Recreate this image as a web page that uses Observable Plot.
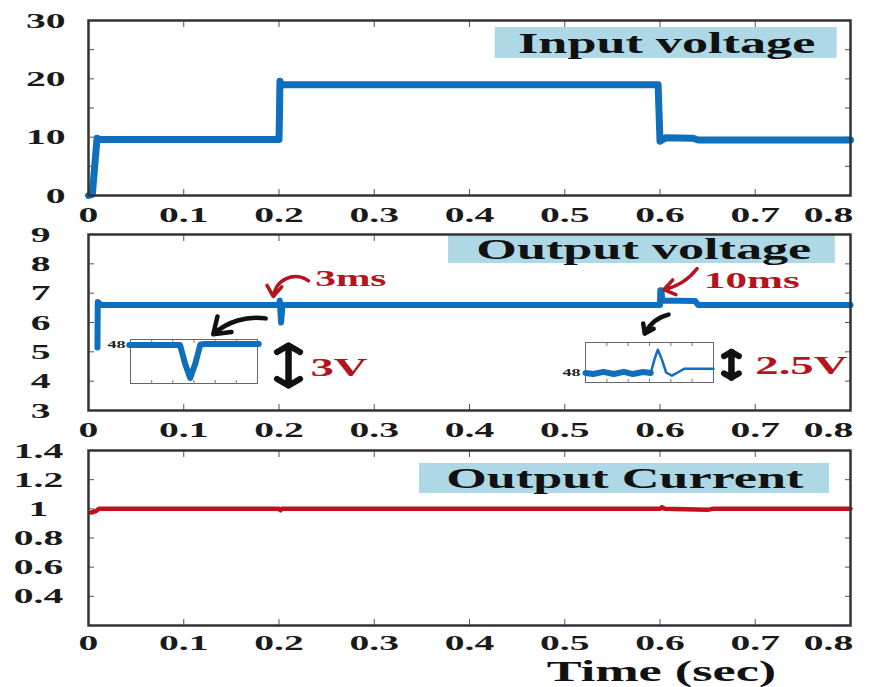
<!DOCTYPE html>
<html>
<head>
<meta charset="utf-8">
<script src="https://cdn.jsdelivr.net/npm/d3@7"></script>
<script src="https://cdn.jsdelivr.net/npm/@observablehq/plot@0.6"></script>
<style>
  body { margin: 0; background: #fff; }
  #chart { position: relative; width: 870px; height: 687px; overflow: hidden; }
  #chart svg { display: block; }
  .inset { position: absolute; }
</style>
</head>
<body>
<div id="chart"></div>
<script>
// ---------- data ----------
const timeTicks = [0, 0.1, 0.2, 0.3, 0.4, 0.5, 0.6, 0.7, 0.8];
const timeTickLabels = ["0", "0.1", "0.2", "0.3", "0.4", "0.5", "0.6", "0.7", "0.8"];

// Input voltage (V)
const inTime = [0, 0.004, 0.009, 0.012, 0.2, 0.2005, 0.201, 0.2018, 0.205, 0.598, 0.6, 0.603, 0.606, 0.635, 0.64, 0.8];
const inVolt = [0, 0.2, 9.8, 9.6, 9.6, 14, 19.6, 18.8, 19, 19, 9.3, 9.6, 9.9, 9.8, 9.5, 9.5];
const inLabelTicks = [0, 10, 20, 30];
const inLabels = ["0", "10", "20", "30"];
const inTicks = [0, 5, 10, 15, 20, 25, 30];

// Output voltage (V)
const outTime = [0.0094, 0.0097, 0.013, 0.2, 0.2008, 0.2022, 0.2037, 0.6, 0.6003, 0.6015, 0.6025, 0.637, 0.64, 0.8];
const outVolt = [5.15, 6.7, 6.6, 6.6, 6.75, 6.0, 6.6, 6.6, 7.1, 7.1, 6.75, 6.73, 6.6, 6.6];
const outLabelTicks = [3, 4, 5, 6, 7, 8, 9];
const outLabels = ["3", "4", "5", "6", "7", "8", "9"];
const outTicks = [3, 4, 5, 6, 7, 8, 9];

// Output current (A)
const curTime = [0.003, 0.008, 0.011, 0.2, 0.2015, 0.203, 0.6, 0.602, 0.605, 0.65, 0.655, 0.8];
const curAmp  = [0.975, 0.985, 1.0, 1.0, 0.99, 1.0, 1.0, 1.012, 1.0, 0.993, 1.0, 1.0];
const curLabelTicks = [0.4, 0.6, 0.8, 1, 1.2, 1.4];
const curLabels = ["0.4", "0.6", "0.8", "1", "1.2", "1.4"];
const curTicks = [0.2, 0.4, 0.6, 0.8, 1, 1.2, 1.4];

// Inset 1 (dip at 0.2 s)
const inset1Time = [-0.1, 3.9, 4.3, 4.7, 5.1, 5.5, 5.9, 10.1];
const inset1Volt = [48, 48, 46.3, 45.0, 46.3, 48.05, 48.1, 48.1];
// Inset 2 (overshoot at 0.6 s)
const inset2WaveTime = [0, 0.6, 1.4, 2.2, 3.0, 3.7, 4.5, 5.1];
const inset2WaveVolt = [47.95, 47.83, 48.07, 47.83, 48.07, 47.83, 48.05, 47.95];
const inset2PeakTime = [5.1, 5.4, 5.65, 5.95, 6.3, 6.75, 7.2, 7.7, 10];
const inset2PeakVolt = [47.95, 49.5, 50.5, 49.5, 48.0, 47.65, 48.0, 48.4, 48.4];
const insetTicks = [0, 1.67, 3.33, 5, 6.67, 8.33, 10];

// Panel titles (boxes in data units)
const titleLabels = ["Input voltage", "Output voltage", "Output Current"];
const titleX1 = [0.427, 0.378, 0.3475];
const titleX2 = [0.786, 0.784, 0.778];
const titleYTop = [28.8, 8.97, 1.311];
const titleYBot = [23.5, 8.01, 1.105];
const titleXc = [0.607, 0.583, 0.563];
const titleYc = [26.1, 8.47, 1.205];

// Annotations in the output-voltage panel
const noteText = ["3ms", "10ms", "3V", "2.5V"];
const noteTime = [0.238, 0.646, 0.233, 0.700];
const noteVolt = [7.5, 7.43, 4.47, 4.52];
// double-headed magnitude arrows: time, top, bottom (V)
const spanTime = [0.21, 0.675];
const spanTop = [5.22, 5.0];
const spanBot = [3.85, 4.12];

// ---------- style ----------
const W = 870, ML = 88, MR = 20;
const FONT = "'Liberation Serif', 'Times New Roman', serif";
const BLUE = "#0f6fbd", RED = "#c3101c", NOTE_RED = "#b3141e", BOX = "#aed8e6";
const STRETCH = 1.8;

const baseStyle = {fontFamily: FONT, fontSize: "22px", fontWeight: "bold", color: "#1a1a1a", background: "transparent", overflow: "visible"};

function fmt(ticks, labels) { return d => labels[ticks.indexOf(d)]; }

function panel({height, marginTop, marginBottom, yDomain, yTicks, yLabelTicks, yLabels, yPadding, yTextAnchor, xPadding = 11, marks}) {
  const lastTick = timeTicks[timeTicks.length - 1];
  const innerTicks = timeTicks.slice(0, -1);
  return Plot.plot({
    width: W, height, marginLeft: ML, marginRight: MR, marginTop, marginBottom,
    style: baseStyle,
    x: {domain: [0, 0.8]},
    y: {domain: yDomain},
    marks: [
      Plot.axisX({anchor: "bottom", ticks: timeTicks, tickSize: -6, fill: "none", stroke: "#555", label: null}),
      Plot.axisX({anchor: "top", ticks: timeTicks, tickSize: -6, fill: "none", stroke: "#555", label: null}),
      Plot.axisY({anchor: "left", ticks: yTicks, tickSize: -6, fill: "none", stroke: "#555", label: null}),
      Plot.axisY({anchor: "right", ticks: yTicks, tickSize: -6, fill: "none", stroke: "#555", label: null}),
      Plot.axisX({anchor: "bottom", ticks: innerTicks, tickSize: 0, tickPadding: xPadding, tickFormat: fmt(timeTicks, timeTickLabels), label: null, fill: "#1a1a1a"}),
      Plot.axisX({anchor: "bottom", ticks: [lastTick], tickSize: 0, tickPadding: xPadding, dx: -22, tickFormat: fmt(timeTicks, timeTickLabels), label: null, fill: "#1a1a1a"}),
      Plot.axisY({anchor: "left", ticks: yLabelTicks, tickSize: 0, tickPadding: yPadding, textAnchor: yTextAnchor, tickFormat: fmt(yLabelTicks, yLabels), label: null, fill: "#1a1a1a"}),
      ...marks,
      Plot.frame({stroke: "#333", strokeWidth: 2.5})
    ]
  });
}

function titleMarks(i) {
  const t = [{x1: titleX1[i], x2: titleX2[i], y1: titleYTop[i], y2: titleYBot[i], xc: titleXc[i], yc: titleYc[i], label: titleLabels[i]}];
  return [
    Plot.rect(t, {x1: "x1", x2: "x2", y1: "y1", y2: "y2", fill: BOX}),
    Plot.text(t, {x: "xc", y: "yc", text: "label", fontSize: 29, fontWeight: "bold", fill: "#111"})
  ];
}

const chart = document.getElementById("chart");

// Panel 1: input voltage
chart.append(panel({
  height: 225, marginTop: 20, marginBottom: 30,
  yDomain: [0, 30], yTicks: inTicks, yLabelTicks: inLabelTicks, yLabels: inLabels,
  yPadding: 23, yTextAnchor: "end",
  marks: [
    ...titleMarks(0),
    Plot.line(inTime, {x: inTime, y: inVolt, stroke: BLUE, strokeWidth: 7})
  ]
}));

// Panel 2: output voltage
const nt = i => [{x: noteTime[i], y: noteVolt[i], text: noteText[i]}];
const spans = spanTime.map((t, i) => ({t, top: spanTop[i], bot: spanBot[i]}));
chart.append(panel({
  height: 215, marginTop: 9, marginBottom: 30,
  yDomain: [3, 9], yTicks: outTicks, yLabelTicks: outLabelTicks, yLabels: outLabels,
  yPadding: 38, yTextAnchor: "end",
  marks: [
    ...titleMarks(1),
    Plot.line(outTime, {x: outTime, y: outVolt, stroke: BLUE, strokeWidth: 6}),
    // red arrows (recovery times)
    Plot.arrow([{x1: 0.231, y1: 7.42, x2: 0.194, y2: 6.88}], {x1: "x1", y1: "y1", x2: "x2", y2: "y2", bend: -60, stroke: NOTE_RED, strokeWidth: 3.5, headLength: 12, headAngle: 70}),
    Plot.arrow([{x1: 0.639, y1: 7.84, x2: 0.604, y2: 7.12}], {x1: "x1", y1: "y1", x2: "x2", y2: "y2", bend: 20, stroke: NOTE_RED, strokeWidth: 3.5, headLength: 12, headAngle: 70}),
    // black arrows to insets
    Plot.arrow([{x1: 0.186, y1: 6.14, x2: 0.131, y2: 5.6}], {x1: "x1", y1: "y1", x2: "x2", y2: "y2", bend: -25, stroke: "#111", strokeWidth: 4.5, headLength: 13, headAngle: 70}),
    Plot.arrow([{x1: 0.609, y1: 6.27, x2: 0.584, y2: 5.62}], {x1: "x1", y1: "y1", x2: "x2", y2: "y2", bend: -25, stroke: "#111", strokeWidth: 4.5, headLength: 13, headAngle: 70}),
    // double arrows (magnitudes): one arrow each way over the full span
    Plot.arrow(spans, {x1: "t", x2: "t", y1: "bot", y2: "top", stroke: "#111", strokeWidth: 6, headLength: 30, headAngle: 120}),
    Plot.arrow(spans, {x1: "t", x2: "t", y1: "top", y2: "bot", stroke: "#111", strokeWidth: 6, headLength: 30, headAngle: 120}),
    Plot.text(nt(0), {x: "x", y: "y", text: "text", fill: NOTE_RED, fontSize: 23, textAnchor: "start"}),
    Plot.text(nt(1), {x: "x", y: "y", text: "text", fill: NOTE_RED, fontSize: 24, textAnchor: "start"}),
    Plot.text(nt(2), {x: "x", y: "y", text: "text", fill: NOTE_RED, fontSize: 26, textAnchor: "start"}),
    Plot.text(nt(3), {x: "x", y: "y", text: "text", fill: NOTE_RED, fontSize: 26, textAnchor: "start"})
  ]
}));

// Panel 3: output current
chart.append(panel({
  height: 247, marginTop: 10, marginBottom: 62,
  yDomain: [0.2, 1.4], yTicks: curTicks, yLabelTicks: curLabelTicks, yLabels: curLabels,
  yPadding: 50, yTextAnchor: "middle", xPadding: 9,
  marks: [
    ...titleMarks(2),
    Plot.line(curTime, {x: curTime, y: curAmp, stroke: RED, strokeWidth: 4.5}),
    Plot.text(["Time (sec)"], {frameAnchor: "bottom", lineAnchor: "middle", text: d => d, dx: 192, dy: 46, fontSize: 29, fontWeight: "bold", fill: "#111"})
  ]
}));

// Insets
function inset({left, top, frameW, frameH, mt, mb, yDomain, marks}) {
  const ml = 30, mr = 6;
  const svg = Plot.plot({
    width: ml + frameW + mr, height: mt + frameH + mb,
    marginLeft: ml, marginRight: mr, marginTop: mt, marginBottom: mb,
    style: {...baseStyle, fontSize: "10px"},
    x: {domain: [0, 10]}, y: {domain: yDomain},
    marks: [
      Plot.axisX({anchor: "bottom", ticks: insetTicks, tickSize: -3, fill: "none", stroke: "#777", label: null}),
      Plot.axisX({anchor: "top", ticks: insetTicks, tickSize: -3, fill: "none", stroke: "#777", label: null}),
      Plot.axisY({anchor: "left", ticks: [48], tickSize: 0, tickPadding: 5, tickFormat: d => String(d), label: null, fill: "#222"}),
      Plot.frame({stroke: "#666", strokeWidth: 1}),
      ...marks
    ]
  });
  svg.classList.add("inset");
  svg.style.left = (left - ml) + "px";
  svg.style.top = (top - mt) + "px";
  chart.append(svg);
}

inset({left: 130, top: 339, frameW: 127, frameH: 44, mt: 5, mb: 5, yDomain: [44.5, 48.5],
  marks: [Plot.line(inset1Time, {x: inset1Time, y: inset1Volt, stroke: BLUE, strokeWidth: 6, clip: false})]});

inset({left: 585, top: 342, frameW: 128, frameH: 40, mt: 5, mb: 12, yDomain: [46.9, 51.3],
  marks: [
    Plot.line(inset2WaveTime, {x: inset2WaveTime, y: inset2WaveVolt, stroke: BLUE, strokeWidth: 6}),
    Plot.line(inset2PeakTime, {x: inset2PeakTime, y: inset2PeakVolt, stroke: BLUE, strokeWidth: 2.5})
  ]});

// Reproduce the horizontally stretched lettering of the original figure:
// only the horizontal axis is scaled, so vertical offsets (em-based y) are kept.
function stretchText(root, sx) {
  root.querySelectorAll("text").forEach(t => {
    const xa = t.getAttribute("x");
    let x = 0;
    if (xa !== null && /^-?[\d.]+$/.test(xa.trim())) { x = parseFloat(xa); t.removeAttribute("x"); }
    const tr = t.getAttribute("transform") || "";
    t.setAttribute("transform", `${tr} translate(${x},0) scale(${sx},1)`.trim());
  });
}
stretchText(chart, STRETCH);
</script>
</body>
</html>
